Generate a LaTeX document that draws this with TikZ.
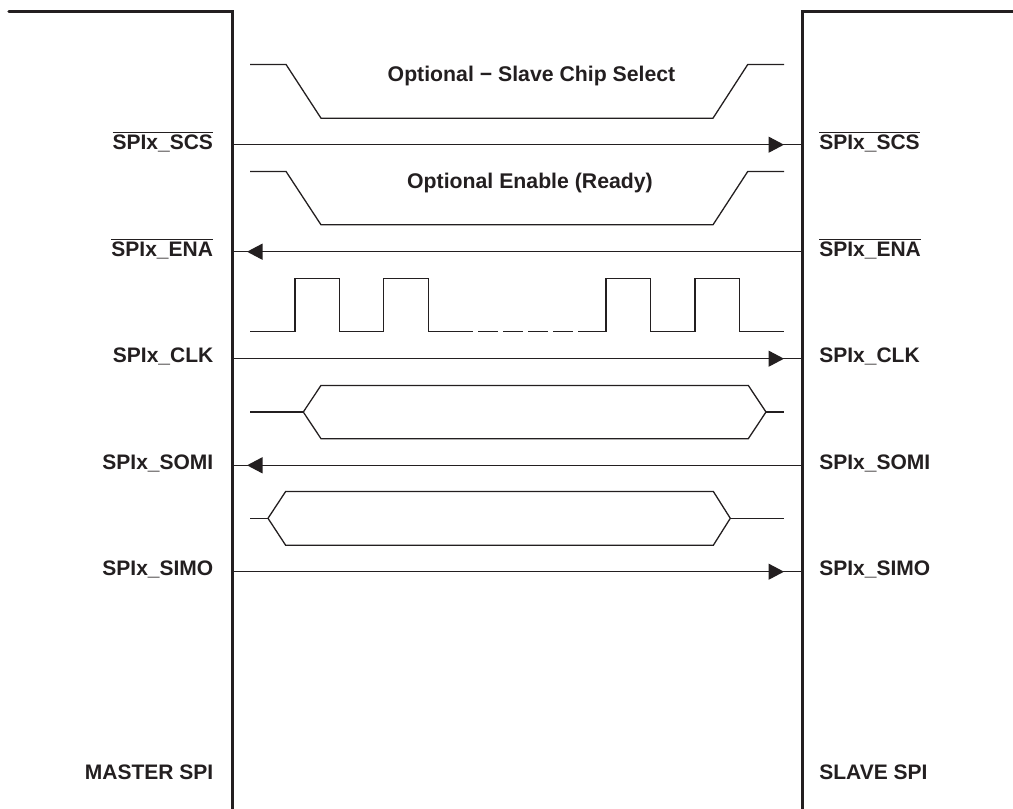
\documentclass[tikz,border=0pt]{standalone}
\usepackage{fontspec}
\setmainfont{Liberation Sans}
\usetikzlibrary{arrows.meta}
\definecolor{ink}{HTML}{231F20}
\newcommand{\ovl}[1]{\leavevmode\vbox{\hrule height 1pt\kern 1.8pt\hbox{#1}}}
\tikzset{
  bar/.style={draw=ink,line width=3.5pt,line join=miter},
  sig/.style={draw=ink,line width=1.3pt,line join=miter},
  wave/.style={draw=ink,line width=1.3pt,line join=miter},
  tipped/.style={draw=ink,line width=1.3pt,-{Triangle[length=15.5pt,width=16pt,fill=ink]},shorten >=0pt},
  lblbase/.style={text=ink,inner sep=0pt,outer sep=0pt,font=\fontsize{21}{24}\selectfont\bfseries},
  lbl/.style={lblbase,anchor=base east},
  lbr/.style={lblbase,anchor=base west},
  note/.style={lblbase,anchor=base,font=\fontsize{21.25}{24}\selectfont\bfseries}
}
\begin{document}
\begin{tikzpicture}[x=1pt,y=-1pt]
\useasboundingbox (0,0) rectangle (1013,809);
% device outlines
\coordinate (mtopL) at (9,11.7);
\coordinate (mcorner) at (232.3,11.7);
\coordinate (mbot) at (232.3,809);
\coordinate (scorner) at (802.3,11.7);
\coordinate (stopR) at (1013,11.7);
\coordinate (sbot) at (802.3,809);
\draw[bar,line cap=round] (mtopL) -- (mcorner) -- (mbot);
\draw[bar] (stopR) -- (scorner) -- (sbot);
% labels, left
\node[lbl] (lscs) at (213,149) {\ovl{SPIx\_SCS}};
\node[lbl] (lena) at (213,256) {\ovl{SPIx\_ENA}};
\node[lbl] (lclk) at (213.3,362) {SPIx\_CLK};
\node[lbl] (lsomi) at (213.3,469) {SPIx\_SOMI};
\node[lbl] (lsimo) at (213.3,575.7) {SPIx\_SIMO};
\node[lbl] (lmaster) at (213.3,779.3) {MASTER SPI};
% labels, right
\node[lbr] (rscs) at (819.3,149) {\ovl{SPIx\_SCS}};
\node[lbr] (rena) at (819.3,256) {\ovl{SPIx\_ENA}};
\node[lbr] (rclk) at (819.3,362) {SPIx\_CLK};
\node[lbr] (rsomi) at (819.3,469) {SPIx\_SOMI};
\node[lbr] (rsimo) at (819.3,575.7) {SPIx\_SIMO};
\node[lbr] (rslave) at (819.3,779.3) {SLAVE SPI};
% captions
\node[note] (cap1) at (531.5,81.7) {Optional − Slave Chip Select};
\node[note] (cap2) at (530,188.7) {Optional Enable (Ready)};
% signal connectors
\foreach \nm/\yy in {scs/144.7,ena/251.7,clk/358.7,somi/465.3,simo/571.7}{
  \coordinate (m\nm) at (232.3,\yy);
  \coordinate (s\nm) at (802.3,\yy);
  \coordinate (tipr\nm) at (784,\yy);
  \coordinate (tipl\nm) at (247,\yy);
  \draw[sig] (m\nm) -- (s\nm);
}
\draw[tipped] (mscs) -- (tiprscs);
\draw[tipped] (mclk) -- (tiprclk);
\draw[tipped] (msimo) -- (tiprsimo);
\draw[tipped] (sena) -- (tiplena);
\draw[tipped] (ssomi) -- (tiplsomi);
% chip-select and enable waveforms
\draw[wave] (250,64.4) -- (286,64.4) -- (321,118.2) -- (713,118.2) -- (747.8,64.4) -- (784,64.4);
\draw[wave] (250,171.4) -- (286,171.4) -- (321,224.8) -- (713,224.8) -- (747.8,171.4) -- (784,171.4);
% clock
\draw[wave] (250,331.4) -- (295,331.4) -- (295,278.4) -- (339.3,278.4) -- (339.3,331.4) -- (383.7,331.4) -- (383.7,278.4) -- (428.3,278.4) -- (428.3,331.4) -- (473,331.4);
\foreach \a/\b in {478/498,503/523,528/548,553/573}{\draw[wave] (\a,331.4) -- (\b,331.4);}
\draw[wave] (578,331.4) -- (606,331.4) -- (606,278.4) -- (650.3,278.4) -- (650.3,331.4) -- (695,331.4) -- (695,278.4) -- (739.3,278.4) -- (739.3,331.4) -- (784,331.4);
% data buses
\draw[wave] (250,412) -- (303.3,412);
\draw[wave] (321,385.4) -- (303.3,412) -- (321,438.7) -- (748.3,438.7) -- (766,412) -- (748.3,385.4) -- cycle;
\draw[wave] (766,412) -- (784,412);
\draw[wave] (250,518.3) -- (268,518.3);
\draw[wave] (285.7,491.4) -- (268,518.3) -- (285.7,545.3) -- (713.3,545.3) -- (730.3,518.3) -- (713.3,491.4) -- cycle;
\draw[wave] (730.3,518.3) -- (784,518.3);
\end{tikzpicture}
\end{document}
